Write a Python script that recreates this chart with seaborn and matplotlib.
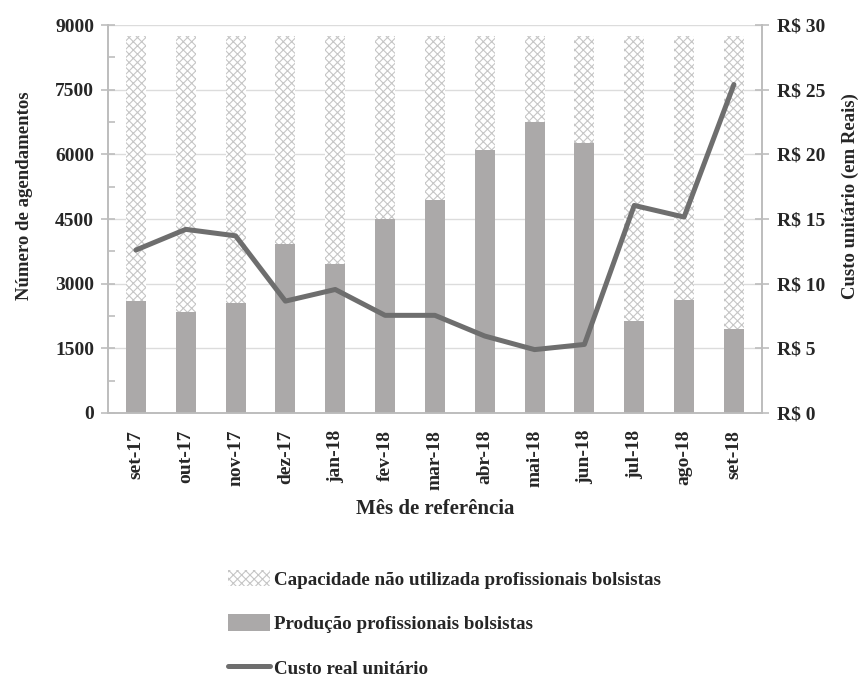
import numpy as np
import pandas as pd
import matplotlib
matplotlib.use("Agg")
import matplotlib.pyplot as plt
from matplotlib.patches import Patch
from matplotlib.lines import Line2D
from matplotlib.ticker import MultipleLocator
import seaborn as sns

meses = ["set-17", "out-17", "nov-17", "dez-17", "jan-18", "fev-18", "mar-18",
         "abr-18", "mai-18", "jun-18", "jul-18", "ago-18", "set-18"]
capacidade_total = [8750, 8750, 8750, 8750, 8750, 8750, 8750,
                    8750, 8750, 8750, 8750, 8750, 8750]
producao = [2600, 2335, 2555, 3925, 3445, 4500, 4935,
            6100, 6740, 6270, 2125, 2630, 1940]
custo = [12.6, 14.2, 13.7, 8.65, 9.55, 7.55, 7.55,
         5.95, 4.9, 5.3, 16.05, 15.15, 25.4]

y_ticks = [0, 1500, 3000, 4500, 6000, 7500, 9000]
r_ticks = [0, 5, 10, 15, 20, 25, 30]
r_labels = ["R$ 0", "R$ 5", "R$ 10", "R$ 15", "R$ 20", "R$ 25", "R$ 30"]

df = pd.DataFrame({"mes": meses, "cap": capacidade_total, "prod": producao,
                   "custo": custo, "pos": np.arange(len(meses))})

sns.set_style("white")
serif = ["Liberation Serif", "DejaVu Serif"]
plt.rcParams["font.family"] = serif
plt.rcParams["hatch.linewidth"] = 0.8

fig = plt.figure(figsize=(8.66, 6.77), dpi=100)
ax = fig.add_axes([0.1247, 0.39, 0.755, 0.573])

hatch_col = "#c6c6c6"
bar_col = "#aba9a9"
line_col = "#6e6e6e"
spine_col = "#bdbdbd"

sns.barplot(data=df, x="mes", y="cap", ax=ax, color="white", width=0.4,
            hatch="xxxx", edgecolor=hatch_col, linewidth=0, zorder=2)
sns.barplot(data=df, x="mes", y="prod", ax=ax, color=bar_col, saturation=1,
            width=0.4, linewidth=0, zorder=3)

ax.set_ylim(0, 9000)
ax.set_xlim(-0.56, len(meses) - 1 + 0.56)
ax.set_yticks(y_ticks)
ax.yaxis.set_minor_locator(MultipleLocator(750))
ax.grid(axis="y", color="#dcdcdc", linewidth=1.0, zorder=0)
ax.set_axisbelow(True)

ax2 = ax.twinx()
sns.lineplot(data=df, x="pos", y="custo", ax=ax2, color=line_col,
             linewidth=3.6, zorder=5)
ax2.set_ylim(0, 30)
ax2.set_yticks(r_ticks)
ax2.set_yticklabels(r_labels)
ax2.set_xlim(-0.56, len(meses) - 1 + 0.56)

for a in (ax, ax2):
    for s in a.spines.values():
        s.set_color(spine_col)
        s.set_linewidth(1.2)
    a.spines["top"].set_visible(False)

tick_size = 14
ax.tick_params(axis="y", which="major", direction="inout", length=10,
               color=spine_col, width=1.2, labelsize=tick_size, pad=5)
ax.tick_params(axis="y", which="minor", direction="in", length=5,
               color=spine_col, width=1.2, left=True)
ax2.tick_params(axis="y", which="major", direction="inout", length=10,
                color=spine_col, width=1.2, labelsize=tick_size, pad=6)
ax.tick_params(axis="x", length=0, labelsize=tick_size, pad=12)
plt.setp(ax.get_xticklabels(), rotation=90, fontweight="bold")
plt.setp(ax.get_yticklabels(), fontweight="bold")
plt.setp(ax2.get_yticklabels(), fontweight="bold")

ax.set_xlabel("Mês de referência", fontsize=15, fontweight="bold")
ax.set_ylabel("Número de agendamentos", fontsize=13.5, fontweight="bold")
ax2.set_ylabel("Custo unitário (em Reais)", fontsize=13.5, fontweight="bold")
ax.xaxis.set_label_coords(0.5, -0.222)
ax.yaxis.set_label_coords(-0.115, 0.56)
ax2.yaxis.set_label_coords(1.122, 0.56)

handles = [
    Patch(facecolor="white", edgecolor=hatch_col, hatch="xxxx", linewidth=0,
          label="Capacidade não utilizada profissionais bolsistas"),
    Patch(facecolor=bar_col, edgecolor="none",
          label="Produção profissionais bolsistas"),
    Line2D([0], [0], color=line_col, linewidth=3.6, label="Custo real unitário"),
]
fig.legend(handles=handles, loc="upper left", bbox_to_anchor=(0.263, 0.158),
           frameon=False, prop={"family": serif, "weight": "bold", "size": 13.7},
           handlelength=2.2, handleheight=0.95, handletextpad=0.25,
           labelspacing=1.35, borderaxespad=0, borderpad=0)

fig.savefig("out.png", dpi=100)
